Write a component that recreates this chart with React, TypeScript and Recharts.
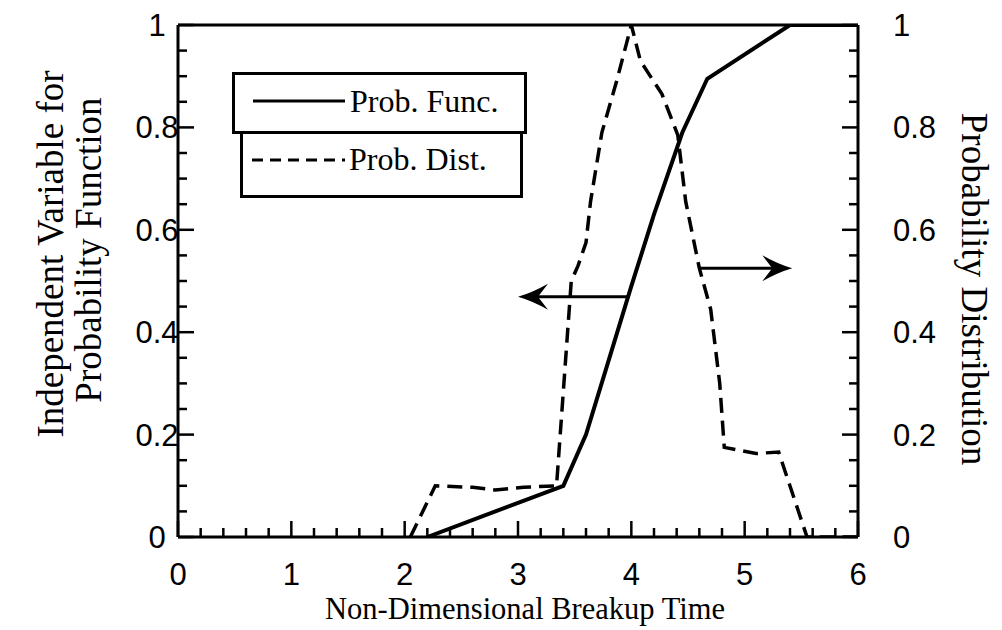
import React from 'react';
import { LineChart, Line, XAxis, YAxis, ReferenceLine, Legend } from 'recharts';

// Prob. Func. (left axis)
const funcX = [2.2, 3.4, 3.6, 3.8, 4.0, 4.2, 4.45, 4.67, 5.4, 6.0];
const funcY = [0, 0.1, 0.2, 0.345, 0.49, 0.63, 0.79, 0.895, 1.0, 1.0];

// Prob. Dist. (right axis)
const distX = [2.05, 2.27, 2.6, 2.8, 3.05, 3.34, 3.47, 3.53, 3.6, 3.64, 3.74, 3.87, 4.0, 4.08, 4.27, 4.41, 4.48, 4.6, 4.7, 4.78, 4.82, 5.1, 5.3, 5.55, 6.0];
const distY = [0, 0.1, 0.097, 0.092, 0.097, 0.1, 0.5, 0.53, 0.575, 0.655, 0.79, 0.89, 1.0, 0.93, 0.865, 0.785, 0.655, 0.525, 0.445, 0.3, 0.175, 0.163, 0.166, 0, 0];

const xLabels = ['0', '1', '2', '3', '4', '5', '6'];
const yLabels = ['0', '0.2', '0.4', '0.6', '0.8', '1'];

// arrows: [from x, to x, y]
const leftArrow = [3.97, 3.0, 0.469];
const rightArrow = [4.6, 5.42, 0.525];

const funcData = funcX.map((x, i) => ({ x, y: funcY[i] }));
const distData = distX.map((x, i) => ({ x, y: distY[i] }));

// minor ticks every 0.2 on x, every 0.05 on y
const xTicks = Array.from({ length: 31 }, (_, i) => i * 0.2);
const yTicks = Array.from({ length: 21 }, (_, i) => i * 0.05);

const near = (v: number, step: number) => Math.abs(v / step - Math.round(v / step)) < 1e-6;

const SANS = '"Liberation Sans", Arial, sans-serif';
const SERIF = '"Liberation Serif", "Times New Roman", serif';

const BottomTick = (props: any) => {
  const { x, y, payload } = props;
  const major = near(payload.value, 1);
  return (
    <g>
      <line x1={x} y1={y} x2={x} y2={y - (major ? 16 : 9)} stroke="#000" strokeWidth={2.5} />
      {major && (
        <text x={x} y={y + 48} textAnchor="middle" fontFamily={SANS} fontSize={31} fill="#000">
          {xLabels[Math.round(payload.value)]}
        </text>
      )}
    </g>
  );
};

const TopTick = (props: any) => {
  const { x, y, payload } = props;
  const major = near(payload.value, 1);
  return <line x1={x} y1={y} x2={x} y2={y + (major ? 16 : 9)} stroke="#000" strokeWidth={2.5} />;
};

const LeftTick = (props: any) => {
  const { x, y, payload } = props;
  const major = near(payload.value, 0.2);
  return (
    <g>
      <line x1={x} y1={y} x2={x + (major ? 16 : 9)} y2={y} stroke="#000" strokeWidth={2.5} />
      {major && (
        <text x={x - 21} y={y + 11} textAnchor="middle" fontFamily={SANS} fontSize={31} fill="#000">
          {yLabels[Math.round(payload.value / 0.2)]}
        </text>
      )}
    </g>
  );
};

const RightTick = (props: any) => {
  const { x, y, payload } = props;
  const major = near(payload.value, 0.2);
  return (
    <g>
      <line x1={x} y1={y} x2={x - (major ? 16 : 9)} y2={y} stroke="#000" strokeWidth={2.5} />
      {major && (
        <text x={x + 35} y={y + 11} textAnchor="start" fontFamily={SANS} fontSize={31} fill="#000">
          {yLabels[Math.round(payload.value / 0.2)]}
        </text>
      )}
    </g>
  );
};

const ArrowShape = (props: any) => {
  const { x1, y1, x2, y2 } = props;
  const dir = x2 > x1 ? 1 : -1;
  const L = 30;
  const H = 13;
  const head = `M${x2},${y2} Q${x2 - dir * 14},${y2 - 4} ${x2 - dir * L},${y2 - H} L${x2 - dir * (L - 10)},${y2} L${x2 - dir * L},${y2 + H} Q${x2 - dir * 14},${y2 + 4} ${x2},${y2} Z`;
  return (
    <g>
      <line x1={x1} y1={y1} x2={x2 - dir * 12} y2={y2} stroke="#000" strokeWidth={3} />
      <path d={head} fill="#000" />
    </g>
  );
};

const LegendBoxes = () => (
  <svg width={1002} height={630} style={{ position: 'absolute', left: 0, top: 0, pointerEvents: 'none' }}>
    <rect x={233.5} y={73.5} width={292} height={59} fill="#fff" stroke="#000" strokeWidth={3} />
    <rect x={241.5} y={132.5} width={280} height={64} fill="#fff" stroke="#000" strokeWidth={3} />
    <line x1={253} y1={101} x2={345} y2={101} stroke="#000" strokeWidth={3} />
    <text x={350} y={112} fontFamily={SERIF} fontSize={32} fill="#000">Prob. Func.</text>
    <line x1={252} y1={160} x2={345} y2={160} stroke="#000" strokeWidth={3} strokeDasharray="11 7" />
    <text x={349} y={170} fontFamily={SERIF} fontSize={32} fill="#000">Prob. Dist.</text>
  </svg>
);

const Titles = () => (
  <svg width={1002} height={630} style={{ position: 'absolute', left: 0, top: 0, pointerEvents: 'none' }}>
    <text x={63} y={254} transform="rotate(-90 63 254)" textAnchor="middle" fontFamily={SERIF} fontSize={37} fill="#000">
      Independent Variable for
    </text>
    <text x={101} y={250} transform="rotate(-90 101 250)" textAnchor="middle" fontFamily={SERIF} fontSize={37} fill="#000">
      Probability Function
    </text>
    <text x={962} y={289} transform="rotate(90 962 289)" textAnchor="middle" fontFamily={SERIF} fontSize={37} fill="#000">
      Probability Distribution
    </text>
    <text x={525} y={619} textAnchor="middle" fontFamily={SERIF} fontSize={30.5} fill="#000">
      Non-Dimensional Breakup Time
    </text>
  </svg>
);

export default function App() {
  return (
    <div style={{ position: 'absolute', left: 0, top: 0, width: 1002, height: 630, background: '#fff' }}>
      <LineChart width={1002} height={630} margin={{ top: 15, right: 84, bottom: 63, left: 118 }}>
        <XAxis
          xAxisId="bottom"
          dataKey="x"
          type="number"
          domain={[0, 6]}
          allowDataOverflow
          ticks={xTicks}
          interval={0}
          height={30}
          tickSize={0}
          tickMargin={0}
          tickLine={false}
          tick={<BottomTick />}
          axisLine={{ stroke: '#000', strokeWidth: 3 }}
        />
        <XAxis
          xAxisId="top"
          orientation="top"
          type="number"
          domain={[0, 6]}
          allowDataOverflow
          ticks={xTicks}
          interval={0}
          height={10}
          tickSize={0}
          tickMargin={0}
          tickLine={false}
          tick={<TopTick />}
          axisLine={{ stroke: '#000', strokeWidth: 3 }}
        />
        <YAxis
          yAxisId="left"
          type="number"
          domain={[0, 1]}
          allowDataOverflow
          ticks={yTicks}
          interval={0}
          width={60}
          tickSize={0}
          tickMargin={0}
          tickLine={false}
          tick={<LeftTick />}
          axisLine={{ stroke: '#000', strokeWidth: 3 }}
        />
        <YAxis
          yAxisId="right"
          orientation="right"
          type="number"
          domain={[0, 1]}
          allowDataOverflow
          ticks={yTicks}
          interval={0}
          width={60}
          tickSize={0}
          tickMargin={0}
          tickLine={false}
          tick={<RightTick />}
          axisLine={{ stroke: '#000', strokeWidth: 3 }}
        />
        <Line
          xAxisId="bottom"
          yAxisId="left"
          data={funcData}
          dataKey="y"
          name="Prob. Func."
          type="linear"
          stroke="#000"
          strokeWidth={4}
          dot={false}
          isAnimationActive={false}
        />
        <Line
          xAxisId="bottom"
          yAxisId="right"
          data={distData}
          dataKey="y"
          name="Prob. Dist."
          type="linear"
          stroke="#000"
          strokeWidth={3.5}
          strokeDasharray="15 8"
          dot={false}
          isAnimationActive={false}
        />
        <ReferenceLine
          xAxisId="bottom"
          yAxisId="left"
          segment={[{ x: leftArrow[0], y: leftArrow[2] }, { x: leftArrow[1], y: leftArrow[2] }]}
          shape={ArrowShape}
        />
        <ReferenceLine
          xAxisId="bottom"
          yAxisId="right"
          segment={[{ x: rightArrow[0], y: rightArrow[2] }, { x: rightArrow[1], y: rightArrow[2] }]}
          shape={ArrowShape}
        />
        <Legend
          layout="vertical"
          align="center"
          verticalAlign="middle"
          wrapperStyle={{ left: 0, top: 0 }}
          content={() => <LegendBoxes />}
        />
      </LineChart>
      <Titles />
    </div>
  );
}
